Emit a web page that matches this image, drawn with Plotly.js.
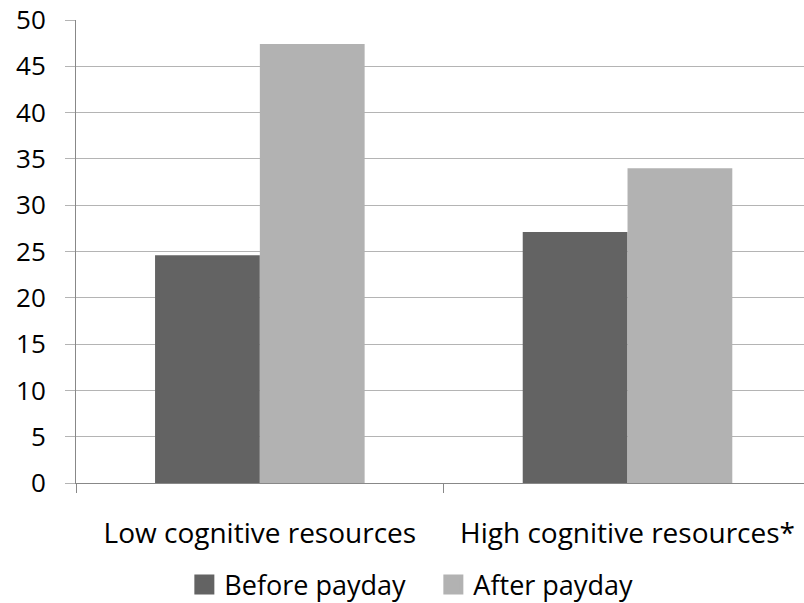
<!DOCTYPE html>
<html>
<head>
<meta charset="utf-8">
<script src="https://cdn.plot.ly/plotly-3.0.1.min.js"></script>
<style>html,body{margin:0;padding:0;background:#fff;}#chart{width:804px;height:603px;}</style>
</head>
<body>
<div id="chart"></div>
<script>
var categories = ["Low cognitive resources", "High cognitive resources*"];
var beforePayday = [24.6, 27.1];
var afterPayday = [47.4, 34.0];
var seriesNames = ["Before payday", "After payday"];
var seriesColors = ["#636363", "#b2b2b2"];
var yTicks = [0, 5, 10, 15, 20, 25, 30, 35, 40, 45, 50];

var fontFam = "Open Sans, Liberation Sans, sans-serif";
var traces = [
  {type: "bar", name: seriesNames[0], x: categories, y: beforePayday,
   marker: {color: seriesColors[0]}, legendgroup: "b", showlegend: false},
  {type: "bar", name: seriesNames[1], x: categories, y: afterPayday,
   marker: {color: seriesColors[1]}, legendgroup: "a", showlegend: false},
  {type: "scatter", mode: "markers", name: seriesNames[0], x: [null], y: [null],
   legendgroup: "b", showlegend: true,
   marker: {symbol: "square", size: 20, color: seriesColors[0],
            line: {width: 4, color: seriesColors[0]}}},
  {type: "scatter", mode: "markers", name: seriesNames[1], x: [null], y: [null],
   legendgroup: "a", showlegend: true,
   marker: {symbol: "square", size: 20, color: seriesColors[1],
            line: {width: 4, color: seriesColors[1]}}}
];
var layout = {
  width: 804, height: 603,
  margin: {l: 76, r: 0, t: 20, b: 120},
  paper_bgcolor: "#fff", plot_bgcolor: "#fff",
  font: {family: fontFam, size: 24, color: "#000"},
  barmode: "group", bargap: 0.43, bargroupgap: 0,
  showlegend: true,
  legend: {orientation: "h", xref: "container", yref: "container",
           x: 0.539, xanchor: "center", y: 0.03, yanchor: "middle",
           itemsizing: "trace", itemwidth: 30, entrywidth: 204,
           font: {family: fontFam, size: 27, color: "#000"}},
  xaxis: {type: "category", range: [-0.5, 1.48], tickson: "boundaries",
          ticks: "outside", ticklen: 9, tickcolor: "#888", tickwidth: 1,
          showline: true, linecolor: "#888", linewidth: 1,
          showgrid: false, zeroline: false, ticklabelstandoff: 25,
          tickfont: {family: fontFam, size: 28, color: "#000"}},
  yaxis: {range: [0, 50], tickvals: yTicks, ticktext: yTicks.map(String),
          ticks: "outside", ticklen: 10, tickcolor: "#b4b4b4", tickwidth: 1,
          showline: true, linecolor: "#888", linewidth: 1,
          showgrid: true, gridcolor: "#b4b4b4", gridwidth: 1, zeroline: false,
          ticklabelstandoff: 14,
          tickfont: {family: fontFam, size: 26, color: "#000"}}
};
Plotly.newPlot("chart", traces, layout, {displayModeBar: false, staticPlot: true});
</script>
</body>
</html>
